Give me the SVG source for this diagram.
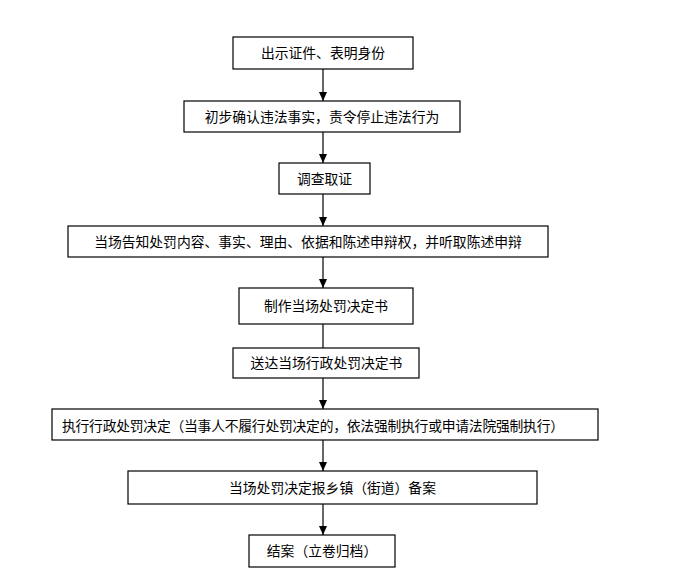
<svg xmlns="http://www.w3.org/2000/svg" width="689" height="588" viewBox="0 0 689 588">
<defs>
<style>
.box{fill:#fff;stroke:#000;stroke-width:1.2}
.t{font-family:"Noto Sans CJK SC","Liberation Serif",sans-serif;font-size:13.8px;fill:#000;text-anchor:middle}
.c{stroke:#000;stroke-width:1.2;fill:none}
</style>
<marker id="ah" markerWidth="10" markerHeight="10" refX="9" refY="5" orient="auto" markerUnits="userSpaceOnUse">
<path d="M0,1 L9,5 L0,9 Z" fill="#000"/>
</marker>
</defs>
<rect width="689" height="588" fill="#fff"/>
<g id="connectors">
<line class="c" x1="323" y1="69" x2="323" y2="101" marker-end="url(#ah)"/>
<line class="c" x1="323" y1="132" x2="323" y2="163" marker-end="url(#ah)"/>
<line class="c" x1="323" y1="194" x2="323" y2="226" marker-end="url(#ah)"/>
<line class="c" x1="323" y1="257" x2="323" y2="288" marker-end="url(#ah)"/>
<line class="c" x1="323" y1="324" x2="323" y2="348"/>
<line class="c" x1="323" y1="378" x2="323" y2="409" marker-end="url(#ah)"/>
<line class="c" x1="323" y1="440" x2="323" y2="471" marker-end="url(#ah)"/>
<line class="c" x1="323" y1="504" x2="323" y2="535" marker-end="url(#ah)"/>
</g>
<g id="n1"><rect class="box" x="233" y="37" width="180" height="32"/><text class="t" x="323" y="58">出示证件、表明身份</text></g>
<g id="n2"><rect class="box" x="184" y="101" width="276" height="31"/><text class="t" x="322" y="121.5">初步确认违法事实，责令停止违法行为</text></g>
<g id="n3"><rect class="box" x="279" y="163" width="91" height="31"/><text class="t" x="324.5" y="183.5">调查取证</text></g>
<g id="n4"><rect class="box" x="68" y="226" width="480" height="31"/><text class="t" x="308" y="246.5">当场告知处罚内容、事实、理由、依据和陈述申辩权，并听取陈述申辩</text></g>
<g id="n5"><rect class="box" x="239" y="288" width="174" height="36"/><text class="t" x="326" y="311">制作当场处罚决定书</text></g>
<g id="n6"><rect class="box" x="233" y="348" width="186" height="30"/><text class="t" x="326.5" y="368">送达当场行政处罚决定书</text></g>
<g id="n7"><rect class="box" x="52" y="409" width="546" height="31"/><text class="t" x="62" y="431" style="text-anchor:start" textLength="502" lengthAdjust="spacing">执行行政处罚决定（当事人不履行处罚决定的，依法强制执行或申请法院强制执行）</text></g>
<g id="n8"><rect class="box" x="128" y="471" width="409" height="33"/><text class="t" x="332.5" y="492.5">当场处罚决定报乡镇（街道）备案</text></g>
<g id="n9"><rect class="box" x="249" y="535" width="146" height="32"/><text class="t" x="322" y="556">结案（立卷归档）</text></g>
</svg>
